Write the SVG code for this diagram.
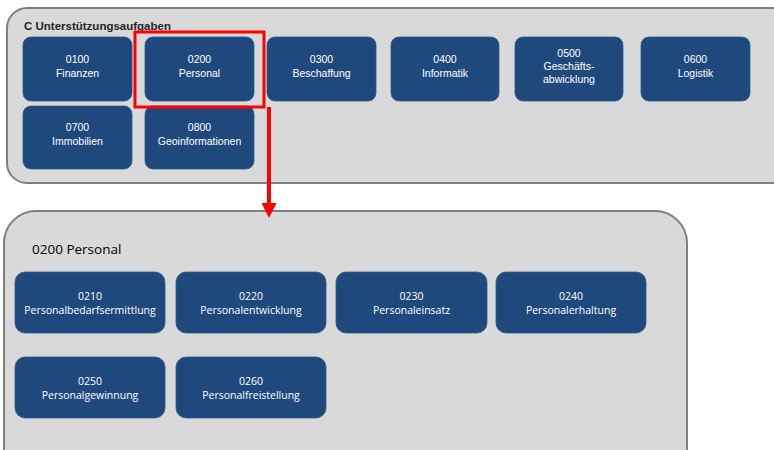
<svg xmlns="http://www.w3.org/2000/svg" width="774" height="450" viewBox="0 0 774 450">
<defs>
<style>
.cont{fill:#d9d9d9;stroke:#7f7f7f;stroke-width:2}
.box{fill:#1f497d;stroke:#2e5a8c;stroke-width:0.8}
.t{font-family:"Liberation Sans",Arial,sans-serif;font-size:10.5px;fill:#ffffff;text-anchor:middle}
.tb{font-family:"Open Sans","Liberation Sans",sans-serif;font-size:10.5px;fill:#ffffff;text-anchor:middle}
</style>
<marker id="ah" markerWidth="15" markerHeight="15" refX="7.5" refY="0" orient="0" markerUnits="userSpaceOnUse">
<path d="M0,0 L15,0 L7.5,15 Z" fill="#ff0000"/>
</marker>
</defs>
<rect width="774" height="450" fill="#ffffff"/>
<g id="container-c">
<rect class="cont" x="7" y="8" width="790" height="175" rx="20"/>
<text x="24" y="30" font-family="Liberation Sans,Arial,sans-serif" font-size="11.5" font-weight="bold" fill="#262626">C Unterstützungsaufgaben</text>
</g>
<g id="n0100"><rect class="box" x="23" y="37" width="109" height="64" rx="8"/><text class="t" x="77.5" y="63">0100</text><text class="t" x="77.5" y="77">Finanzen</text></g>
<g id="n0200"><rect class="box" x="145" y="37" width="109" height="64" rx="8"/><text class="t" x="199.5" y="63">0200</text><text class="t" x="199.5" y="77">Personal</text></g>
<g id="n0300"><rect class="box" x="267" y="37" width="109" height="64" rx="8"/><text class="t" x="321.5" y="63">0300</text><text class="t" x="321.5" y="77">Beschaffung</text></g>
<g id="n0400"><rect class="box" x="391" y="37" width="108" height="64" rx="8"/><text class="t" x="445" y="63">0400</text><text class="t" x="445" y="77">Informatik</text></g>
<g id="n0500"><rect class="box" x="515" y="37" width="108" height="64" rx="8"/><text class="t" x="569" y="57">0500</text><text class="t" x="569" y="70">Geschäfts-</text><text class="t" x="569" y="83">abwicklung</text></g>
<g id="n0600"><rect class="box" x="641" y="37" width="109" height="64" rx="8"/><text class="t" x="695.5" y="63">0600</text><text class="t" x="695.5" y="77">Logistik</text></g>
<g id="n0700"><rect class="box" x="23" y="106" width="109" height="63" rx="8"/><text class="t" x="77.5" y="131">0700</text><text class="t" x="77.5" y="145">Immobilien</text></g>
<g id="n0800"><rect class="box" x="145" y="106" width="109" height="63" rx="8"/><text class="t" x="199.5" y="131">0800</text><text class="t" x="199.5" y="145">Geoinformationen</text></g>
<g id="highlight"><rect x="135" y="32" width="129" height="75" fill="none" stroke="#ff0000" stroke-width="3"/></g>
<g id="container-0200">
<rect class="cont" x="4" y="211" width="683" height="270" rx="32"/>
<text x="32" y="254" font-family="Open Sans,Liberation Sans,sans-serif" font-size="13.5" fill="#000000">0200 Personal</text>
</g>
<g id="n0210"><rect class="box" x="15" y="272" width="150" height="61" rx="10"/><text class="tb" x="90" y="300">0210</text><text class="tb" x="90" y="314">Personalbedarfsermittlung</text></g>
<g id="n0220"><rect class="box" x="176" y="272" width="150" height="61" rx="10"/><text class="tb" x="251" y="300">0220</text><text class="tb" x="251" y="314">Personalentwicklung</text></g>
<g id="n0230"><rect class="box" x="336" y="272" width="151" height="61" rx="10"/><text class="tb" x="411.5" y="300">0230</text><text class="tb" x="411.5" y="314">Personaleinsatz</text></g>
<g id="n0240"><rect class="box" x="496" y="272" width="150" height="61" rx="10"/><text class="tb" x="571" y="300">0240</text><text class="tb" x="571" y="314">Personalerhaltung</text></g>
<g id="n0250"><rect class="box" x="15" y="357" width="150" height="61" rx="10"/><text class="tb" x="90" y="385">0250</text><text class="tb" x="90" y="399">Personalgewinnung</text></g>
<g id="n0260"><rect class="box" x="176" y="357" width="150" height="61" rx="10"/><text class="tb" x="251" y="385">0260</text><text class="tb" x="251" y="399">Personalfreistellung</text></g>
<g id="connectors">
<line x1="269" y1="107" x2="269" y2="203" stroke="#ff0000" stroke-width="4" marker-end="url(#ah)"/>
</g>
</svg>
